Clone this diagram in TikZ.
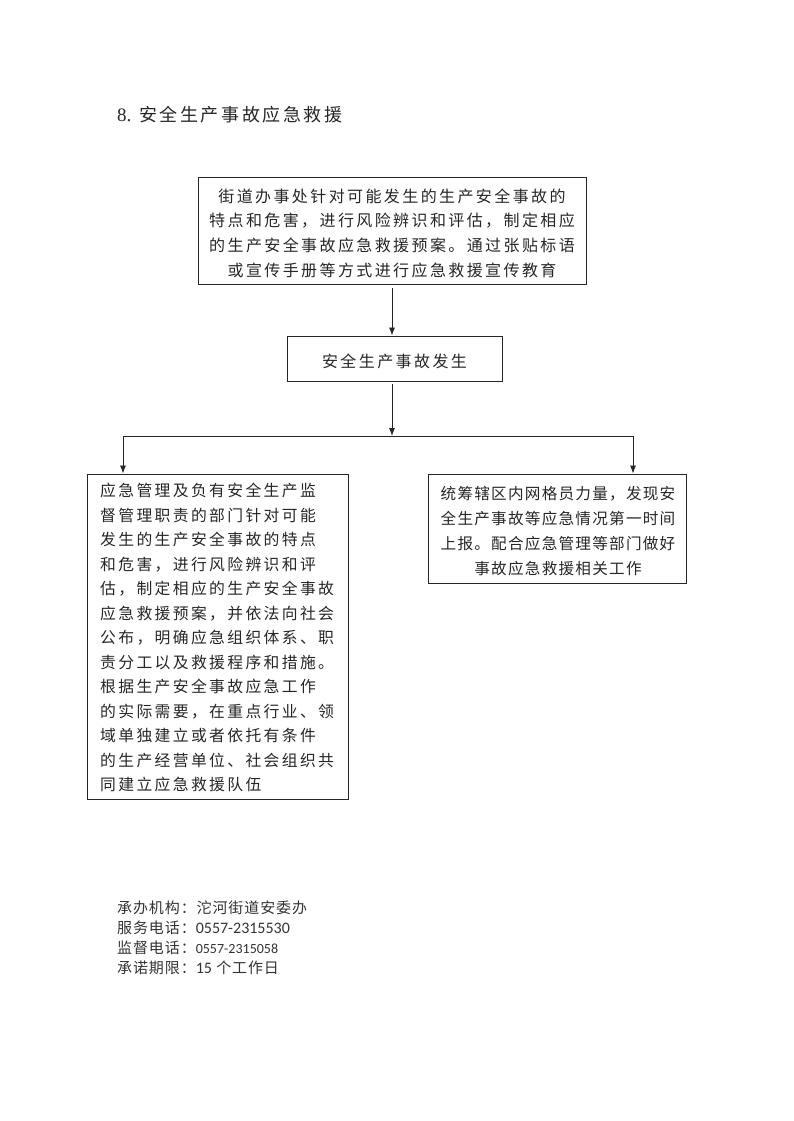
\documentclass[tikz,border=0pt]{standalone}
\usepackage{fontspec}
\usetikzlibrary{arrows.meta}
\newfontfamily\cjk{Noto Sans CJK SC}
\newfontfamily\cjkwide[LetterSpace=15]{Noto Sans CJK SC}
\newfontfamily\cjkmid[LetterSpace=8]{Noto Sans CJK SC}
\newfontfamily\cjktitle[LetterSpace=14]{Noto Sans CJK SC}
\newfontfamily\cjkfoot[LetterSpace=6]{Noto Sans CJK SC}
\newfontfamily\numfont{Carlito}
\setmainfont{Liberation Serif}
\tikzset{
  box/.style={draw=black!85, line width=0.9pt, inner sep=0pt, rectangle},
  flow/.style={draw=black!85, line width=0.8pt, -{Latex[length=8pt,width=6pt]}},
  link/.style={draw=black!85, line width=0.8pt},
  txt/.style={inner sep=0pt, text=black!85},
  foot/.style={inner sep=0pt, anchor=west, text=black!80}
}
\begin{document}
\begin{tikzpicture}[x=1pt,y=-1pt]
\useasboundingbox (0,0) rectangle (793,1121);
% title
\node[txt, anchor=west] (title) at (117,115) {\fontsize{19}{22}\selectfont 8.\hspace{8pt}{\cjktitle\fontsize{18}{22}\selectfont 安全生产事故应急救援}};
% box 1
\node[box, minimum width=388pt, minimum height=107pt] (b1) at (392,230.5) {};
\node[txt, align=center, font={\fontsize{16}{24.6}\selectfont\cjkwide}] (t1) at (392,233) {街道办事处针对可能发生的生产安全事故的\\
特点和危害，进行风险辨识和评估，制定相应\\
的生产安全事故应急救援预案。通过张贴标语\\
或宣传手册等方式进行应急救援宣传教育};
% box 2
\node[box, minimum width=215pt, minimum height=45pt] (b2) at (394.5,358.5) {};
\node[txt, font={\fontsize{16}{20}\selectfont\cjkwide}] (t2) at (394.5,361) {安全生产事故发生};
% left box
\node[box, minimum width=261pt, minimum height=325pt] (b3) at (217.5,636.5) {};
\node[txt, align=left, anchor=north west, font={\fontsize{15.8}{24.5}\selectfont\cjkwide}] (t3) at (100,483) {应急管理及负有安全生产监\\
督管理职责的部门针对可能\\
发生的生产安全事故的特点\\
和危害，进行风险辨识和评\\
估，制定相应的生产安全事故\\
应急救援预案，并依法向社会\\
公布，明确应急组织体系、职\\
责分工以及救援程序和措施。\\
根据生产安全事故应急工作\\
的实际需要，在重点行业、领\\
域单独建立或者依托有条件\\
的生产经营单位、社会组织共\\
同建立应急救援队伍};
% right box
\node[box, minimum width=258pt, minimum height=109pt] (b4) at (557,528.5) {};
\node[txt, align=center, font={\fontsize{15.6}{25}\selectfont\cjkmid}] (t4) at (558,531) {统筹辖区内网格员力量，发现安\\
全生产事故等应急情况第一时间\\
上报。配合应急管理等部门做好\\
事故应急救援相关工作};
% connectors
\coordinate (j) at (392,436);
\coordinate (jl) at (123,436);
\coordinate (jr) at (633,436);
\draw[flow] ([yshift=-4pt]b1.south -| j) -- (b2.north -| j);
\draw[flow] ([yshift=-3pt]b2.south -| j) -- (j);
\draw[link] (jl) -- (jr);
\draw[flow] (jl) -- (b3.north -| jl);
\draw[flow] (jr) -- (b4.north -| jr);
% footer
\node[foot] (f1) at (117,908) {\fontsize{15}{18}\selectfont\cjkfoot 承办机构：沱河街道安委办};
\node[foot] (f2) at (117,928) {\fontsize{15}{18}\selectfont\cjkfoot 服务电话：{\numfont\fontsize{16}{18}\selectfont 0557-2315530}};
\node[foot] (f3) at (117,948) {\fontsize{15}{18}\selectfont\cjkfoot 监督电话：{\numfont\fontsize{14}{18}\selectfont 0557-2315058}};
\node[foot] (f4) at (117,968) {\fontsize{15}{18}\selectfont\cjkfoot 承诺期限：{\numfont\fontsize{16}{18}\selectfont 15} 个工作日};
\end{tikzpicture}
\end{document}
